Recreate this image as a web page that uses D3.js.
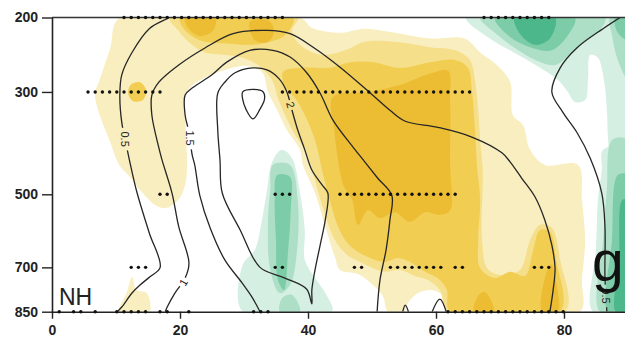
<!DOCTYPE html>
<html>
<head>
<meta charset="utf-8">
<script src="https://cdn.jsdelivr.net/npm/d3@7"></script>
<style>
  html, body { margin: 0; padding: 0; background: #fff; }
  svg { display: block; }
</style>
</head>
<body>
<svg id="chart" width="625" height="337"></svg>
<script>
// ---- axes ----
const latTicks = [0, 20, 40, 60, 80];
const pressureTicks = [200, 300, 500, 700, 850];

// ---- shading classes (weak -> strong) ----
const warmColors = ['#f9eec0', '#f5df8a', '#f1cd52', '#ecbd32'];
const coolColors = ['#d6efe3', '#addfc7', '#7ccca7', '#4cb78a'];

// ---- positive anomaly outlines, [lat, hPa] ----
const warm1 = [
  [[10.6,200],[38.75,200],[40.6,212],[45,218],[48.9,213],[53.6,218],[59.1,225],[64.5,225],[66.9,243],[69.5,260],[71.6,285],[72,338],[73.6,356],[74.7,403],[77,434],[82.2,434],[82.8,514],[83.3,619],[82.8,740],[82.5,850],[61.9,850],[61.4,801],[59.4,774],[57.2,784],[55.6,819],[55,850],[52.5,850],[51.7,794],[50,754],[47.8,721],[45,708],[44.2,668],[42.7,582],[41.1,497],[39.2,434],[38.75,403],[36.7,365],[35.2,330],[33.75,300],[32.8,270],[30.2,261],[27,267],[23.1,282],[21.1,300],[20.9,365],[21.1,434],[20.8,478],[19.7,514],[17.7,534],[16.1,526],[13.75,490],[11.9,456],[10.5,434],[9.1,388],[7.3,333],[6.7,302],[7.3,285],[9.1,237]],
  [[12.5,730],[13.2,774],[14.8,784],[15.2,850],[10.5,850],[11.7,781]]
];
const warm2 = [
  [[18.4,200],[38.4,200],[37.5,215],[38.75,233],[41.9,246],[45.8,240],[48.9,229],[53.6,229],[59.1,236],[63,240],[65.3,253],[66.1,282],[66.6,330],[66.9,384],[67.3,445],[67.2,619],[68,703],[70,724],[73.1,708],[74.7,619],[76.25,577],[78.1,585],[79.4,677],[80.2,850],[61.9,850],[60.6,774],[58.75,740],[56.7,727],[54.4,708],[52,714],[50.2,703],[48.1,683],[46.1,662],[44.2,619],[42.2,526],[40.6,445],[39.5,403],[38,374],[36.4,338],[35.3,310],[34.4,282],[32.2,260],[29.4,249],[26.6,246],[23.9,243],[21.6,231],[19.7,215]]
];
const warm3 = [
  [[20,200],[37.7,200],[36.4,221],[34.1,229],[30.9,233],[27,231],[23.1,227],[20.8,215]],
  [[36.1,270],[38.75,264],[43.4,264],[46.6,256],[50.2,256],[54.4,264],[59.1,256],[63,253],[65,264],[65.6,297],[66.1,365],[66.4,434],[66.9,514],[66.6,619],[66.9,703],[69.2,734],[71.6,714],[73.9,727],[75.2,647],[76.25,591],[77.8,596],[78.75,677],[79.4,850],[62.2,850],[61.7,774],[60.6,740],[58.3,714],[55.9,683],[54.1,671],[52,683],[49.7,671],[47.3,647],[45.8,619],[44.4,569],[43.4,514],[42.2,445],[41.1,384],[39.5,338],[38,310],[36.4,292]],
  [[12.3,289],[13.75,285],[14.7,297],[14.2,313],[12.7,315],[11.9,303]]
];
const warm4 = [
  [[43.9,308],[49.7,300],[54.4,289],[59.1,272],[61.9,268],[62.2,313],[62.2,434],[62.2,539],[60.6,551],[58.3,544],[55.9,569],[53.6,544],[51.25,559],[49.4,539],[47.8,577],[46.9,514],[45.5,478],[44.7,424],[44.1,365]],
  [[20.8,200],[25.5,200],[25.2,215],[23.1,222],[21.25,212]],
  [[30.9,205],[33.75,203],[34.7,215],[33.75,229],[31.7,227]],
  [[66,850],[66.4,800],[67.5,780],[68.5,805],[69,850]],
  [[76.6,850],[77.2,720],[78,690],[78.6,730],[79,850]]
];

// ---- negative anomaly outlines, [lat, hPa] ----
const cool1 = [
  [[64.7,200],[90,200],[90,450],[87.5,450],[86.9,384],[86.7,330],[86.25,282],[85.3,250],[84.1,246],[83.75,282],[83.3,313],[81.7,316],[80.6,300],[79.1,282],[76.25,264],[72.8,246],[68.4,225]],
  [[86.1,403],[90,403],[90,850],[84.5,850],[85,647],[85.3,514],[85.9,445]],
  [[35.9,403],[37.5,420],[38.75,497],[39.5,591],[39.5,677],[41.1,734],[42.7,784],[43.75,850],[29.8,850],[29.8,692],[31.7,647],[32.8,564],[33.6,490],[34.4,428]]
];
const cool2 = [
  [[66.9,200],[86.4,200],[85.6,215],[83.3,229],[80.9,246],[78.6,260],[75.5,253],[72.3,237],[69.2,218]],
  [[87.2,200],[90,200],[90,282],[88.4,253],[87.5,221]],
  [[87.5,384],[90,384],[90,850],[85.6,850],[86.1,619],[86.7,490]],
  [[34.5,434],[37.2,434],[38.4,514],[38.3,647],[37.2,757],[35.6,784],[34.1,708],[33.75,564],[34.1,490]],
  [[35.6,850],[36,800],[37.5,790],[38.75,850]]
];
const cool3 = [
  [[69.2,200],[81.7,200],[80.6,221],[78.1,240],[74.7,236],[71.25,221]],
  [[88,200],[90,200],[90,227],[88.4,218]],
  [[88.4,456],[90,456],[90,850],[86.9,850],[87.5,619]],
  [[35.2,456],[37.2,460],[37.3,539],[36.9,647],[36.25,774],[35.3,740],[35,619],[34.8,514]]
];
const cool4 = [
  [[72.3,200],[78.6,200],[77.8,225],[75.5,233],[73.1,219]],
  [[89.1,514],[90,514],[90,850],[88.1,850],[88.6,677]]
];

// ---- climatology contour lines, [lat, hPa] ----
const clim05West = [[10.2,850],[10.9,833],[12.5,784],[13.75,757],[15.3,730],[16.9,700],[15.2,599],[13.3,497],[12.2,430],[11.7,399],[10.9,351],[10.6,305],[10.9,274],[12.5,243],[15.2,213],[18.3,200],[19.5,194]];
const clim05East = [[91,190],[86.1,213],[82,237],[79.4,264],[78.1,300],[79.8,333],[82,369],[84.1,420],[85.9,497],[86.4,582],[86.4,730],[86.7,850]];
const clim10 = [[17.7,850],[18,833],[19.2,784],[20.8,734],[21.4,686],[19.8,582],[18.75,497],[17.2,424],[16.7,399],[15.6,338],[15.6,305],[16.7,285],[19.8,260],[23.9,237],[28.3,219],[33.6,215],[37.2,219],[40.8,236],[45,263],[49.2,297],[52.8,330],[55.2,349],[60.3,360],[65.6,378],[70.3,409],[71.6,428],[73.4,463],[75.5,507],[77,564],[78.1,633],[78.6,703],[78.3,774],[77.8,850]];
const clim15 = [[32.5,850],[31.25,798],[29.7,750],[27,677],[24.7,585],[23.1,503],[22.3,434],[21.9,413],[21.4,369],[20.8,338],[20.8,305],[21.9,294],[25,274],[27.3,256],[30.9,240],[34.5,240],[37.2,249],[39.8,271],[41.9,302],[43.9,347],[47,397],[48.9,428],[50.9,463],[53.1,503],[52.8,564],[52.2,647],[51.25,740],[50.8,850]];
const clim20 = [[40.6,822],[39.8,771],[36.4,734],[32.5,700],[29.4,591],[26.6,497],[26.25,424],[25.9,365],[25.9,302],[27,285],[28.6,271],[31.4,264],[33.6,267],[35.5,280],[36.7,300],[37.5,330],[38.4,365],[39.5,403],[40.6,445],[42.2,478],[43.1,497],[42.7,564],[41.9,633],[41.1,708],[40.6,774]];
const clim25 = [[29.8,300],[31.4,296],[33,300],[33.2,312],[32.5,328],[31.4,345],[30.3,328],[29.8,312]];
const climBumps = [
  [[54.8,850],[55.2,826],[55.7,850]],
  [[59.4,850],[60.6,805],[61.6,850]]
];
const openLines = [clim05West, clim05East, clim10, clim15].concat(climBumps);
const closedLines = [clim20, clim25];

const contourLabels = [
  { text: '0.5', lat: 11.4, p: 382, angle: 90 },
  { text: '1.5', lat: 21.5, p: 380, angle: 90 },
  { text: '2',   lat: 37.3, p: 321, angle: 75 },
  { text: '1',   lat: 20.5, p: 748, angle: -60 },
  { text: '0.5', lat: 86.6, p: 794, angle: 90 }
];

// ---- significant grid points (latitude spans per level) ----
const gridStep = 1.125;
const sig200 = [[11.25, 36.4], [67.3, 77.8]];
const sig300 = [[5.6, 17.2], [35.9, 65.3]];
const sig500 = [[16.7, 18.1], [34.8, 37.5], [45, 63.3]];
const sig700 = [[12.2, 15], [34.7, 36.1], [47, 48.6], [52.8, 60.9], [62.7, 64.2], [75.2, 78]];
const sig850 = [[1.1, 1.3], [3.3, 3.5], [4.4, 4.6], [6.7, 6.8], [10.1, 14.8], [16.7, 18.1], [21.3, 21.5], [31.4, 34], [61.4, 79.7]];
const sigRows = [[200, sig200], [300, sig300], [500, sig500], [700, sig700], [850, sig850]];

// ---- scales ----
const W = 625, H = 337;
const plotLeft = 52, plotTop = 17.5, plotBottom = 311.7;
// standard-atmosphere height (km) of a pressure level
function stdHeight(p) { return 44.331 * (1 - Math.pow(p / 1013.25, 0.190263)); }
const x = d3.scaleLinear().domain([0, 90]).range([plotLeft, plotLeft + 576]);
const z = d3.scaleLinear().domain([stdHeight(850), stdHeight(200)]).range([plotBottom, plotTop]);
const yP = p => z(stdHeight(p));

const svg = d3.select('#chart');
const defs = svg.append('defs');
defs.append('clipPath').attr('id', 'plotClip')
  .append('rect').attr('x', plotLeft).attr('y', plotTop).attr('width', 576).attr('height', plotBottom - plotTop);

// label gaps in contour lines
const gapMask = defs.append('mask').attr('id', 'gaps')
  .attr('maskUnits', 'userSpaceOnUse').attr('x', 0).attr('y', 0).attr('width', W).attr('height', H);
gapMask.append('rect').attr('width', W).attr('height', H).attr('fill', '#fff');
contourLabels.forEach(l => {
  const w = l.text.length * 6.2 + 4;
  gapMask.append('rect')
    .attr('x', -w / 2).attr('y', -5.5).attr('width', w).attr('height', 11)
    .attr('fill', '#000')
    .attr('transform', `translate(${x(l.lat)},${yP(l.p)}) rotate(${l.angle})`);
});

const plot = svg.append('g').attr('clip-path', 'url(#plotClip)');

const area = d3.line().x(d => x(d[0])).y(d => yP(d[1])).curve(d3.curveCatmullRomClosed.alpha(0.5));
const openPath = d3.line().x(d => x(d[0])).y(d => yP(d[1])).curve(d3.curveCatmullRom.alpha(0.5));

[warm1, warm2, warm3, warm4].forEach((layer, i) => {
  plot.append('g').selectAll('path').data(layer).join('path')
    .attr('d', area).attr('fill', warmColors[i]);
});
[cool1, cool2, cool3, cool4].forEach((layer, i) => {
  plot.append('g').selectAll('path').data(layer).join('path')
    .attr('d', area).attr('fill', coolColors[i]);
});

// climatology contours
const lines = plot.append('g').attr('mask', 'url(#gaps)')
  .attr('fill', 'none').attr('stroke', '#262626').attr('stroke-width', 1.3);
lines.selectAll('path.open').data(openLines).join('path').attr('class', 'open').attr('d', openPath);
lines.selectAll('path.closed').data(closedLines).join('path').attr('class', 'closed').attr('d', area);

plot.append('g').selectAll('text').data(contourLabels).join('text')
  .attr('transform', d => `translate(${x(d.lat)},${yP(d.p)}) rotate(${d.angle})`)
  .attr('text-anchor', 'middle').attr('dominant-baseline', 'central')
  .attr('font-family', 'Liberation Sans, Arial, sans-serif').attr('font-size', 11)
  .attr('fill', '#222').text(d => d.text);

// frame and axes
svg.append('line').attr('x1', plotLeft).attr('x2', W).attr('y1', plotTop).attr('y2', plotTop)
  .attr('stroke', '#333').attr('stroke-width', 1.6);

const xAxis = svg.append('g').attr('transform', `translate(0,${plotBottom})`)
  .call(d3.axisBottom(x).tickValues(latTicks).tickSize(7).tickSizeOuter(0).tickPadding(6));
const yAxis = svg.append('g').attr('transform', `translate(${plotLeft},0)`)
  .call(d3.axisLeft(z).tickValues(pressureTicks.map(stdHeight))
    .tickFormat((d, i) => pressureTicks[i]).tickSize(10).tickSizeOuter(0).tickPadding(4));
[xAxis, yAxis].forEach(a => {
  a.select('.domain').attr('stroke', '#222').attr('stroke-width', 1.6);
  a.selectAll('.tick line').attr('stroke', '#222').attr('stroke-width', 1.4);
  a.selectAll('.tick text').attr('fill', '#222')
    .attr('font-family', 'Liberation Sans, Arial, sans-serif')
    .attr('font-size', 14).attr('font-weight', 'bold');
});

// stippling
const dots = [];
sigRows.forEach(([p, spans]) => {
  spans.forEach(([a, b]) => {
    for (let k = Math.ceil((a - 0.3) / gridStep); k * gridStep <= b + 0.3; k++) {
      dots.push([k * gridStep, p]);
    }
  });
});
svg.append('g').selectAll('circle').data(dots).join('circle')
  .attr('cx', d => x(d[0])).attr('cy', d => yP(d[1])).attr('r', 1.7).attr('fill', '#111');

// panel annotations
svg.append('text').attr('x', 59).attr('y', 305)
  .attr('font-family', 'Liberation Sans, Arial, sans-serif').attr('font-size', 23)
  .attr('fill', '#222').text('NH');
svg.append('text').attr('x', 592).attr('y', 281)
  .attr('font-family', 'Liberation Sans, Arial, sans-serif').attr('font-size', 57)
  .attr('fill', '#111').text('g');
</script>
</body>
</html>
